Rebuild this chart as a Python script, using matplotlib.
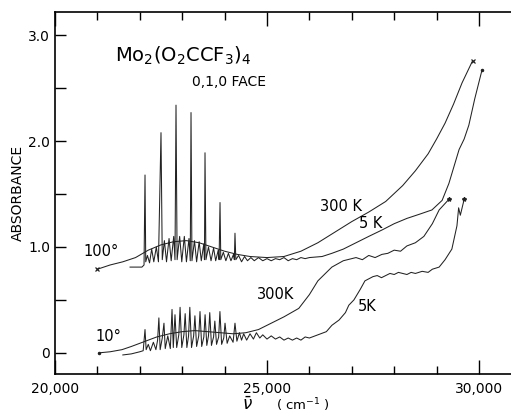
import numpy as np
import matplotlib.pyplot as plt
from matplotlib.ticker import MultipleLocator, FixedLocator, FixedFormatter

# 100 deg polarisation, 300 K (smooth)
up300_v = [21000, 21300, 21600, 21900, 22200, 22500, 22800, 23100, 23400, 23700,
           24000, 24300, 24600, 25000, 25400, 25800, 26200, 26600, 27000, 27400,
           27800, 28200, 28500, 28800, 29000, 29200, 29400, 29600, 29850]
up300_a = [0.79, 0.83, 0.86, 0.90, 0.97, 1.02, 1.05, 1.06, 1.04, 1.00,
           0.96, 0.93, 0.91, 0.90, 0.91, 0.96, 1.04, 1.14, 1.24, 1.33,
           1.43, 1.58, 1.72, 1.88, 2.02, 2.17, 2.35, 2.55, 2.76]

# 100 deg polarisation, 5 K (vibronic structure)
up5_v = [21770, 21900, 22050, 22100, 22123, 22140, 22180, 22230, 22280, 22330,
         22390, 22440, 22500, 22530, 22580, 22630, 22690, 22740, 22800, 22830,
         22854, 22880, 22940, 22990, 23050, 23100, 23160, 23190, 23208, 23230,
         23290, 23340, 23400, 23450, 23510, 23525, 23538, 23560, 23620, 23680,
         23740, 23790, 23850, 23870, 23892, 23910, 23970, 24030, 24090, 24150,
         24210, 24230, 24245, 24265, 24330, 24400, 24470, 24540, 24620, 24700,
         24800, 24900, 25000, 25100, 25200, 25300, 25400, 25500, 25600, 25700,
         25800, 25900, 26000, 26300, 26530, 26800, 27100, 27400, 27710, 28000,
         28300, 28600, 28890, 29130, 29290, 29530, 29650, 29760, 29900, 30070]
up5_a = [0.81, 0.81, 0.81, 0.83, 1.68, 0.86, 0.92, 0.85, 0.98, 0.86,
         1.00, 0.86, 2.08, 0.88, 1.06, 0.86, 1.08, 0.87, 1.10, 0.88,
         2.34, 0.88, 1.10, 0.86, 1.10, 0.86, 1.08, 0.87, 2.27, 0.87,
         1.06, 0.86, 1.05, 0.87, 1.03, 0.88, 1.89, 0.88, 1.00, 0.87,
         0.99, 0.87, 0.97, 0.88, 1.42, 0.88, 0.95, 0.87, 0.94, 0.87,
         0.93, 0.88, 1.13, 0.88, 0.92, 0.86, 0.91, 0.87, 0.90, 0.87,
         0.90, 0.87, 0.89, 0.87, 0.89, 0.88, 0.90, 0.87, 0.89, 0.88,
         0.90, 0.89, 0.90, 0.91, 0.94, 0.98, 1.04, 1.10, 1.16, 1.22,
         1.27, 1.31, 1.35, 1.44, 1.60, 1.92, 2.02, 2.15, 2.40, 2.67]

# 10 deg polarisation, 300 K
lo300_v = [21040, 21300, 21580, 21800, 22000, 22200, 22400, 22700, 23000, 23300,
           23600, 23900, 24200, 24500, 24800, 25100, 25400, 25750, 26000, 26200,
           26530, 26800, 27100, 27250, 27400, 27550, 27710, 27850, 28000, 28150,
           28300, 28500, 28700, 28900, 29060, 29290]
lo300_a = [0.00, 0.01, 0.03, 0.06, 0.09, 0.12, 0.15, 0.18, 0.20, 0.21,
           0.20, 0.19, 0.18, 0.19, 0.22, 0.28, 0.34, 0.42, 0.55, 0.68,
           0.81, 0.87, 0.90, 0.88, 0.92, 0.90, 0.93, 0.94, 0.97, 0.96,
           1.01, 1.04, 1.10, 1.22, 1.35, 1.45]

# 10 deg polarisation, 5 K
lo5_v = [21600, 21800, 22000, 22080, 22123, 22150, 22200, 22250, 22320, 22380,
         22420, 22450, 22480, 22530, 22570, 22600, 22660, 22720, 22760, 22790,
         22830, 22870, 22920, 22950, 22990, 23040, 23070, 23110, 23150, 23180,
         23220, 23270, 23300, 23340, 23390, 23420, 23460, 23510, 23540, 23580,
         23620, 23650, 23690, 23740, 23770, 23810, 23860, 23890, 23930, 23980,
         24010, 24060, 24120, 24200, 24245, 24290, 24350, 24400, 24450, 24520,
         24600, 24680, 24750, 24830, 24900, 25000, 25100, 25200, 25300, 25400,
         25500, 25600, 25700, 25800, 25900, 26000, 26200, 26400, 26530, 26700,
         26850, 26930, 27050, 27200, 27310, 27500, 27600, 27700, 27900, 28000,
         28100, 28300, 28400, 28500, 28660, 28800, 28900, 29060, 29200, 29360,
         29420, 29480, 29520, 29560, 29650]
lo5_a = [-0.02, -0.01, 0.01, 0.02, 0.22, 0.03, 0.08, 0.02, 0.10, 0.03,
         0.12, 0.33, 0.03, 0.14, 0.28, 0.04, 0.16, 0.04, 0.41, 0.05,
         0.36, 0.05, 0.17, 0.43, 0.05, 0.17, 0.37, 0.05, 0.16, 0.43,
         0.05, 0.16, 0.35, 0.06, 0.16, 0.39, 0.06, 0.15, 0.36, 0.07,
         0.16, 0.38, 0.07, 0.15, 0.30, 0.08, 0.15, 0.39, 0.08, 0.14,
         0.28, 0.09, 0.16, 0.10, 0.28, 0.11, 0.19, 0.12, 0.18, 0.12,
         0.18, 0.13, 0.19, 0.14, 0.17, 0.13, 0.16, 0.13, 0.15, 0.12,
         0.14, 0.12, 0.14, 0.12, 0.15, 0.14, 0.17, 0.20, 0.26, 0.31,
         0.38, 0.45, 0.50, 0.60, 0.68, 0.72, 0.73, 0.71, 0.75, 0.74,
         0.76, 0.74, 0.76, 0.75, 0.77, 0.76, 0.79, 0.81, 0.88, 0.98,
         1.09, 1.20, 1.37, 1.30, 1.45]

line_kw = dict(color="#222222", lw=0.75)

fig = plt.figure(figsize=(5.11, 4.13), dpi=100)
ax = fig.add_axes([55 / 511, 39 / 413, 456 / 511, 362 / 413])

ax.plot(up300_v, up300_a, **line_kw)
ax.plot(up5_v, up5_a, **line_kw)
ax.plot(lo300_v, lo300_a, **line_kw)
ax.plot(lo5_v, lo5_a, **line_kw)

# end markers
ax.plot([up300_v[0], up300_v[-1]], [up300_a[0], up300_a[-1]], "x", color="#222222", ms=3, mew=0.9)
ax.plot([lo300_v[0], up5_v[-1]], [lo300_a[0], up5_a[-1]], ".", color="#222222", ms=3)
ax.plot([lo300_v[-1], lo5_v[-1]], [lo300_a[-1], lo5_a[-1]], "*", color="#222222", ms=3)

ax.set_xlim(20000, 30755)
ax.set_ylim(-0.2, 3.22)

ax.xaxis.set_major_locator(FixedLocator([20000, 25000, 30000]))
ax.xaxis.set_major_formatter(FixedFormatter(["20,000", "25,000", "30,000"]))
ax.xaxis.set_minor_locator(MultipleLocator(1000))
ax.yaxis.set_major_locator(FixedLocator([0, 1, 2, 3]))
ax.yaxis.set_major_formatter(FixedFormatter(["0", "1.0", "2.0", "3.0"]))
ax.yaxis.set_minor_locator(MultipleLocator(0.5))

ax.tick_params(axis="x", which="both", direction="in", top=True, bottom=True,
               labelsize=10, pad=6, width=1.0)
ax.tick_params(axis="x", which="major", length=10)
ax.tick_params(axis="x", which="minor", length=6)
ax.tick_params(axis="y", which="both", direction="in", left=True, right=False,
               labelsize=10, length=8, width=1.0)

for side in ["left", "bottom", "top"]:
    ax.spines[side].set_linewidth(1.2)
ax.spines["right"].set_visible(False)

ax.set_ylabel("ABSORBANCE", fontsize=10, labelpad=2)
fig.text(247 / 511, 1 - 405 / 413, r"$\bar{\nu}$", fontsize=12, ha="center", va="center")
fig.text(303 / 511, 1 - 405 / 413, r"( cm$^{-1}$ )", fontsize=9.5, ha="center", va="center")

ax.text(21415, 2.81, r"Mo$_2$(O$_2$CCF$_3$)$_4$", fontsize=14, ha="left", va="center")
ax.text(23230, 2.56, "0,1,0 FACE", fontsize=10, ha="left", va="center")
ax.text(21085, 0.96, "100°", fontsize=10.5, ha="center", va="center")
ax.text(21250, 0.15, "10°", fontsize=10.5, ha="center", va="center")
ax.text(26745, 1.38, "300 K", fontsize=10.5, ha="center", va="center")
ax.text(27450, 1.22, "5 K", fontsize=10.5, ha="center", va="center")
ax.text(25210, 0.55, "300K", fontsize=10.5, ha="center", va="center")
ax.text(27360, 0.44, "5K", fontsize=10.5, ha="center", va="center")

fig.savefig("out.png", dpi=100)
